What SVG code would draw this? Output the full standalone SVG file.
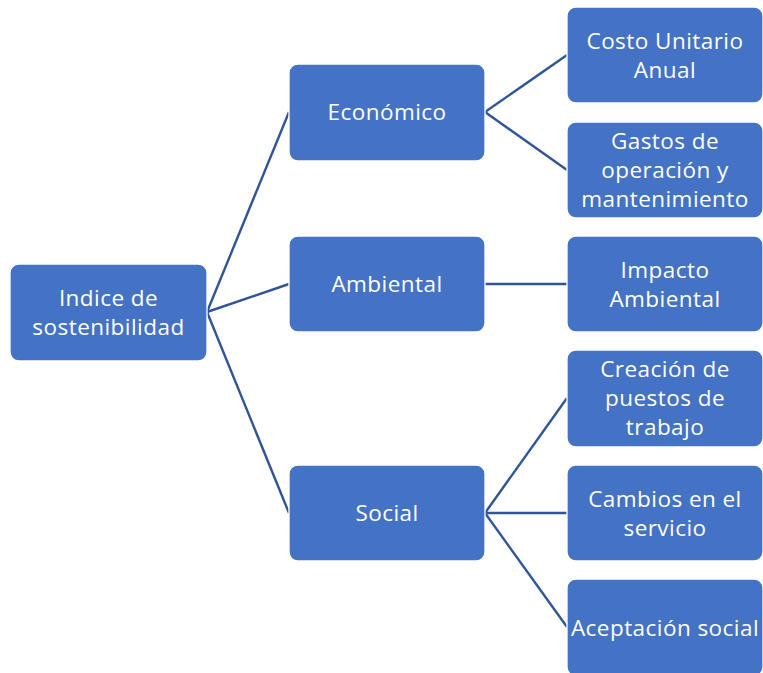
<svg xmlns="http://www.w3.org/2000/svg" width="763" height="673" viewBox="0 0 763 673">
<style>
.box{fill:#4472C4;stroke:#ffffff;stroke-width:1.3}
.t{font-family:"Open Sans","Liberation Sans",sans-serif;font-size:22.5px;fill:#ffffff;text-anchor:middle;letter-spacing:0.45px}
.c{stroke:#2F5597;stroke-width:2.4;fill:none}
</style>
<rect width="763" height="673" fill="#ffffff"/>
<g id="connectors">
<line class="c" x1="207" y1="312" x2="289" y2="112"/>
<line class="c" x1="207" y1="312" x2="289" y2="284"/>
<line class="c" x1="207" y1="312" x2="289" y2="513"/>
<line class="c" x1="485" y1="112" x2="567" y2="55"/>
<line class="c" x1="485" y1="112" x2="567" y2="170"/>
<line class="c" x1="485" y1="284" x2="567" y2="284"/>
<line class="c" x1="485" y1="513" x2="567" y2="398"/>
<line class="c" x1="485" y1="513" x2="567" y2="513"/>
<line class="c" x1="485" y1="513" x2="567" y2="627"/>
</g>
<g id="root">
<rect class="box" x="10" y="264" width="197" height="97" rx="9"/>
<text class="t" x="108.5" y="306">Indice de</text>
<text class="t" x="108.5" y="335">sostenibilidad</text>
</g>
<g id="economico">
<rect class="box" x="289" y="64" width="196" height="97" rx="9"/>
<text class="t" x="387" y="120">Económico</text>
</g>
<g id="ambiental">
<rect class="box" x="289" y="236" width="196" height="96" rx="9"/>
<text class="t" x="387" y="292">Ambiental</text>
</g>
<g id="social">
<rect class="box" x="289" y="465" width="196" height="96" rx="9"/>
<text class="t" x="387" y="521">Social</text>
</g>
<g id="costo">
<rect class="box" x="567" y="7" width="196" height="96" rx="9"/>
<text class="t" x="665" y="48.5">Costo Unitario</text>
<text class="t" x="665" y="77.5">Anual</text>
</g>
<g id="gastos">
<rect class="box" x="567" y="122" width="196" height="96" rx="9"/>
<text class="t" x="665" y="149">Gastos de</text>
<text class="t" x="665" y="178">operación y</text>
<text class="t" x="665" y="207">mantenimiento</text>
</g>
<g id="impacto">
<rect class="box" x="567" y="236" width="196" height="96" rx="9"/>
<text class="t" x="665" y="277.5">Impacto</text>
<text class="t" x="665" y="306.5">Ambiental</text>
</g>
<g id="creacion">
<rect class="box" x="567" y="350" width="196" height="97" rx="9"/>
<text class="t" x="665" y="377">Creación de</text>
<text class="t" x="665" y="406">puestos de</text>
<text class="t" x="665" y="435">trabajo</text>
</g>
<g id="cambios">
<rect class="box" x="567" y="465" width="196" height="96" rx="9"/>
<text class="t" x="665" y="506.5">Cambios en el</text>
<text class="t" x="665" y="535.5">servicio</text>
</g>
<g id="aceptacion">
<rect class="box" x="567" y="579" width="196" height="97" rx="9"/>
<text class="t" x="665" y="635.5">Aceptación social</text>
</g>
</svg>
